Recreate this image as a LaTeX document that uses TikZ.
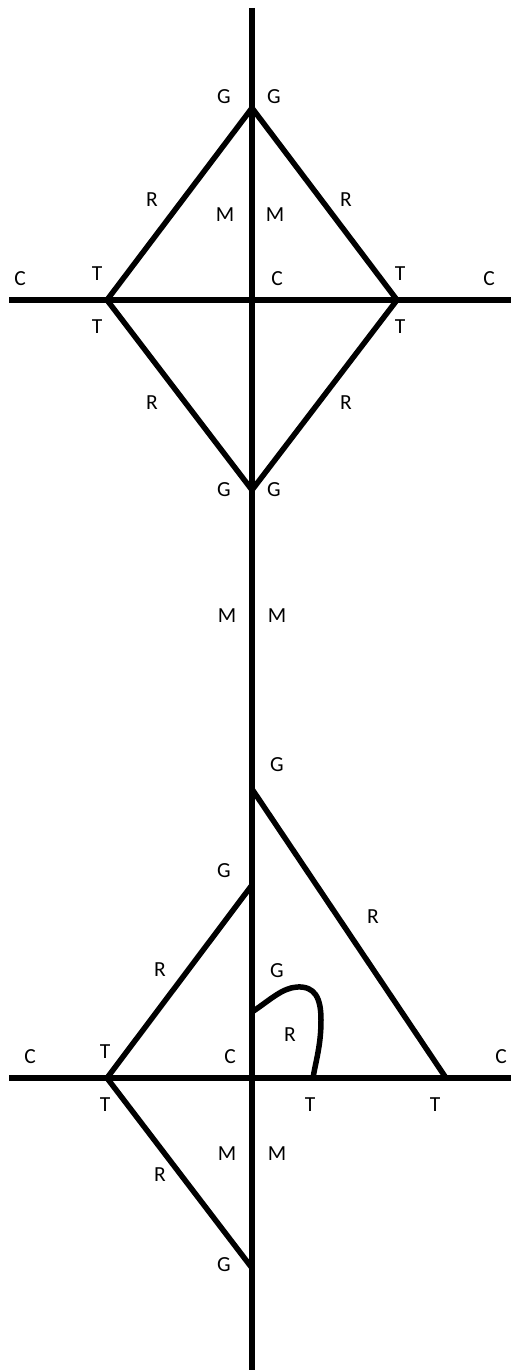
\documentclass[tikz,border=0pt]{standalone}
\usepackage{fontspec}
\setmainfont{Carlito}
\usepackage{tikz}

\tikzset{
  bond/.style={line width=5.5pt,line join=round},
  lbl/.style={font=\fontsize{21.5}{21.5}\selectfont,inner sep=0pt},
}

\begin{document}
\begin{tikzpicture}[x=1pt,y=-1pt]
  \useasboundingbox (0,0) rectangle (511,1370);
  % vertices
  \coordinate (axTop) at (252,8);
  \coordinate (axBot) at (252,1372);
  \coordinate (gA) at (252,108);
  \coordinate (tL) at (107,300);
  \coordinate (tR) at (397,300);
  \coordinate (gB) at (252,490);
  \coordinate (cL) at (9,300);
  \coordinate (cR) at (511,300);
  \coordinate (gC) at (252,789);
  \coordinate (gD) at (252,885);
  \coordinate (gE) at (252,1012);
  \coordinate (gF) at (252,1268);
  \coordinate (tL2) at (107,1078);
  \coordinate (tR2) at (446,1078);
  \coordinate (tM2) at (313,1078);
  \coordinate (cL2) at (9,1078);
  \coordinate (cR2) at (511,1078);

  \draw[bond] (axTop) -- (axBot);
  \draw[bond] (cL) -- (cR);
  \draw[bond] (gA) -- (tL) -- (gB) -- (tR) -- cycle;
  \draw[bond] (cL2) -- (cR2);
  \draw[bond] (gC) -- (tR2);
  \draw[bond] (gD) -- (tL2) -- (gF);
  \draw[bond] (gE) .. controls (270,1000) and (282,988) .. (297,987)
    .. controls (315,986) and (321,998) .. (321,1020)
    .. controls (321,1045) and (316,1060) .. (tM2);

  % labels, upper part
  \node[lbl] (g1) at (224,97) {G};
  \node[lbl] (g2) at (274,97) {G};
  \node[lbl] (r1) at (152,200) {R};
  \node[lbl] (r2) at (346,200) {R};
  \node[lbl] (m1) at (225,215) {M};
  \node[lbl] (m2) at (275,215) {M};
  \node[lbl] (c1) at (20,279) {C};
  \node[lbl] (t1) at (97,274) {T};
  \node[lbl] (c2) at (277,279) {C};
  \node[lbl] (t2) at (400,274) {T};
  \node[lbl] (c3) at (489,279) {C};
  \node[lbl] (t3) at (97,327) {T};
  \node[lbl] (t4) at (400,327) {T};
  \node[lbl] (r3) at (152,403) {R};
  \node[lbl] (r4) at (346,403) {R};
  \node[lbl] (g3) at (224,490) {G};
  \node[lbl] (g4) at (274,490) {G};
  \node[lbl] (m3) at (227,616) {M};
  \node[lbl] (m4) at (277,616) {M};

  % labels, lower part
  \node[lbl] (g5) at (277,765) {G};
  \node[lbl] (g6) at (224,871) {G};
  \node[lbl] (r5) at (373,917) {R};
  \node[lbl] (r6) at (160,970) {R};
  \node[lbl] (g7) at (277,971) {G};
  \node[lbl] (r7) at (290,1035) {R};
  \node[lbl] (c4) at (30,1057) {C};
  \node[lbl] (t5) at (105,1052) {T};
  \node[lbl] (c5) at (230,1057) {C};
  \node[lbl] (c6) at (501,1057) {C};
  \node[lbl] (t6) at (105,1105) {T};
  \node[lbl] (t7) at (310,1105) {T};
  \node[lbl] (t8) at (435,1105) {T};
  \node[lbl] (m5) at (227,1154) {M};
  \node[lbl] (m6) at (277,1154) {M};
  \node[lbl] (r8) at (160,1175) {R};
  \node[lbl] (g8) at (224,1265) {G};
\end{tikzpicture}
\end{document}
